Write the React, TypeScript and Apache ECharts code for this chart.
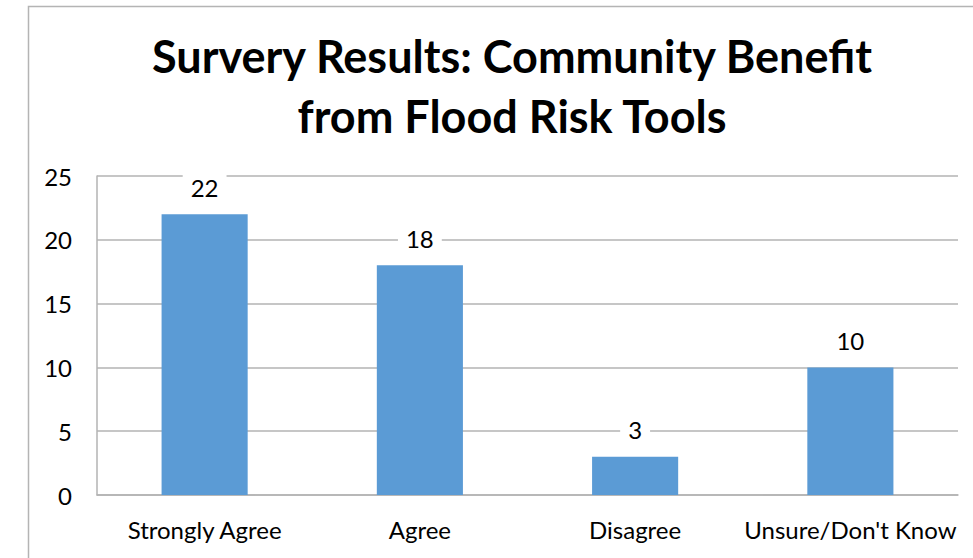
import React, { useEffect, useRef } from "react";
import * as echarts from "echarts";

const categories = ["Strongly Agree", "Agree", "Disagree", "Unsure/Don't Know"];
const values = [22, 18, 3, 10];
const titleText = "Survery Results: Community Benefit\nfrom Flood Risk Tools";

const FONT = "Lato, 'Open Sans', sans-serif";

export default function App() {
  const ref = useRef<HTMLDivElement>(null);
  useEffect(() => {
    if (!ref.current) return;
    const chart = echarts.init(ref.current, undefined, { renderer: "svg" });
    chart.setOption({
      animation: false,
      backgroundColor: "#ffffff",
      title: {
        text: titleText,
        left: 507,
        top: 21,
        textAlign: "center",
        textStyle: {
          fontFamily: FONT,
          fontWeight: "bold",
          fontSize: 45,
          lineHeight: 60,
          color: "#000000",
        },
      },
      graphic: [
        {
          type: "rect",
          shape: { x: 28.5, y: 6.5, width: 1000, height: 600 },
          style: { fill: "none", stroke: "#b4b4b4", lineWidth: 1.5 },
          silent: true,
          z: -1,
        },
      ],
      grid: { left: 97, right: 15, top: 176, bottom: 63 },
      xAxis: {
        type: "category",
        data: categories,
        axisLine: { show: true, lineStyle: { color: "#b3b3b3", width: 1.5 } },
        axisTick: { show: false },
        axisLabel: { color: "#000", fontFamily: FONT, fontSize: 24, margin: 22, interval: 0 },
      },
      yAxis: {
        type: "value",
        min: 0,
        max: 25,
        interval: 5,
        axisLine: { show: true, lineStyle: { color: "#b3b3b3", width: 1.5 } },
        axisTick: { show: false },
        splitLine: { lineStyle: { color: "#b3b3b3", width: 1.5 } },
        axisLabel: { color: "#000", fontFamily: FONT, fontSize: 24, margin: 25 },
      },
      series: [
        {
          type: "bar",
          data: values,
          barWidth: "40%",
          itemStyle: { color: "#5b9bd5" },
          label: {
            show: true,
            position: "top",
            distance: 13,
            color: "#000",
            fontFamily: FONT,
            fontSize: 24,
            backgroundColor: "#ffffff",
            padding: [2, 8],
          },
        },
      ],
    });
    return () => chart.dispose();
  }, []);
  return (
    <div
      ref={ref}
      style={{ position: "absolute", left: 0, top: 0, width: 973, height: 558 }}
    />
  );
}
